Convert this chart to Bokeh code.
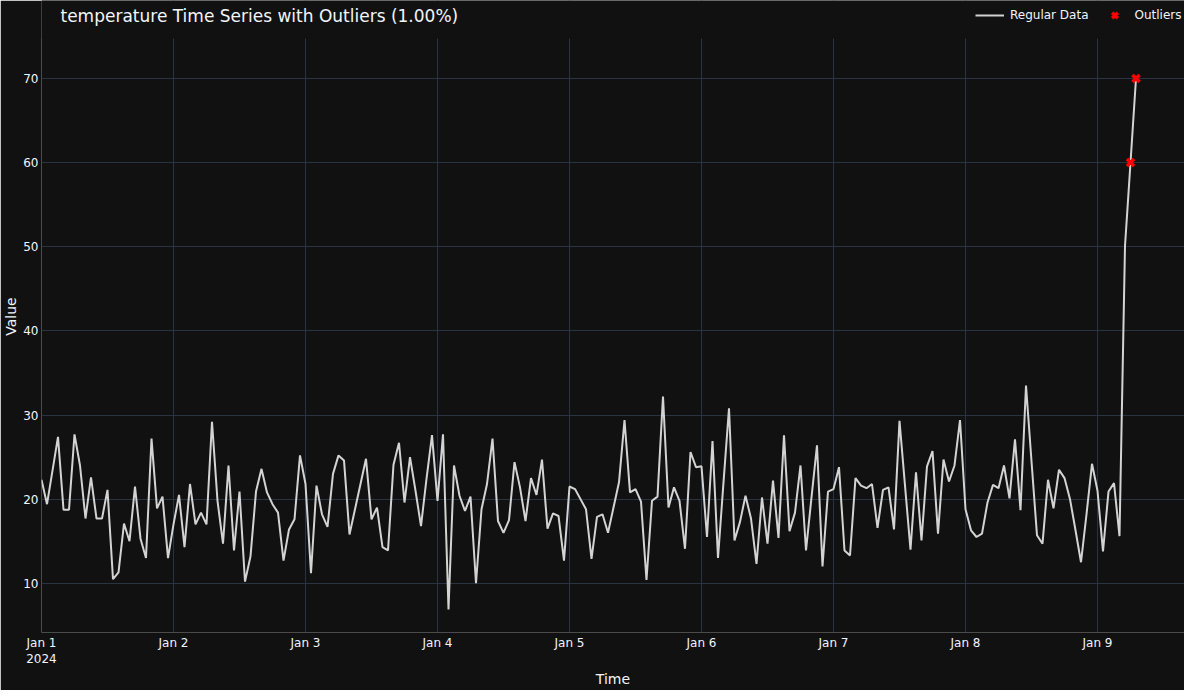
import pandas as pd
from bokeh.plotting import figure
from bokeh.models import (Range1d, FixedTicker, DatetimeTickFormatter, Legend,
                          LegendItem, ColumnDataSource, BoxAnnotation, Label)
from bokeh.embed import file_html
from bokeh.resources import INLINE

# ---------------- data ----------------
start_time = "2024-01-01 00:00"
values = [
    # Jan 1
    22.3, 19.4, 23.4, 27.4, 18.75, 18.75, 27.7, 24.0, 17.7, 22.6, 17.7, 17.7,
    21.1, 10.5, 11.3, 17.1, 15.0, 21.5, 15.3, 13.0, 27.2, 18.9, 20.3, 13.0,
    # Jan 2
    17.0, 20.5, 14.3, 21.8, 17.0, 18.4, 17.0, 29.2, 19.8, 14.7, 24.0, 13.9,
    20.9, 10.2, 13.2, 20.9, 23.6, 20.8, 19.4, 18.4, 12.7, 16.4, 17.6, 25.2,
    # Jan 3
    21.8, 11.2, 21.6, 18.2, 16.7, 23.0, 25.2, 24.6, 15.8, 18.8, 21.8, 24.8,
    17.6, 19.0, 14.3, 13.9, 24.1, 26.7, 19.6, 25.0, 21.0, 16.8, 22.4, 27.6,
    # Jan 4
    19.8, 27.7, 6.9, 24.0, 20.4, 18.6, 20.3, 10.0, 18.8, 21.8, 27.2, 17.4,
    16.0, 17.5, 24.4, 21.4, 17.4, 22.5, 20.5, 24.7, 16.5, 18.3, 18.0, 12.7,
    # Jan 5
    21.5, 21.2, 20.0, 18.8, 12.9, 17.9, 18.2, 16.0, 19.0, 22.0, 29.4, 20.8,
    21.2, 19.7, 10.4, 19.8, 20.3, 32.2, 19.0, 21.4, 19.8, 14.1, 25.6, 23.8,
    # Jan 6
    23.9, 15.5, 26.9, 13.0, 22.0, 30.8, 15.1, 17.3, 20.4, 17.7, 12.3, 20.2,
    14.7, 22.2, 15.4, 27.6, 16.2, 18.4, 24.0, 13.9, 20.2, 26.4, 12.0, 20.9,
    # Jan 7
    21.2, 23.8, 13.9, 13.3, 22.5, 21.6, 21.3, 21.8, 16.6, 21.1, 21.4, 16.4,
    29.3, 21.6, 14.0, 23.2, 15.1, 23.9, 25.7, 15.9, 24.7, 22.1, 24.0, 29.4,
    # Jan 8
    18.8, 16.3, 15.5, 15.9, 19.6, 21.7, 21.3, 24.0, 20.1, 27.1, 18.7, 33.5,
    24.5, 15.7, 14.7, 22.3, 18.9, 23.5, 22.5, 20.0, 16.3, 12.5, 18.2, 24.2,
    # Jan 9
    21.0, 13.8, 20.9, 21.9, 15.6, 50.1, 60.0, 70.0,
]
outlier_idx = [198, 199]
y_ticks = [10, 20, 30, 40, 50, 60, 70]
title_text = "temperature Time Series with Outliers (1.00%)"
legend_labels = ["Regular Data", "Outliers"]
x_label = "Time"
y_label = "Value"

times = pd.date_range(start_time, periods=len(values), freq="h")
day_ticks = pd.date_range(start_time, periods=9, freq="D")

src = ColumnDataSource(dict(t=times, v=values))
out_src = ColumnDataSource(dict(t=[times[i] for i in outlier_idx],
                                v=[values[i] for i in outlier_idx]))

# ---------------- style / geometry ----------------
BG = "#111111"
TXT = "#f2f5fa"
GRID = "#283442"
FONT = "DejaVu Sans"
LINE_COLOR = "#d3d3d3"
OUT_COLOR = "#ff0000"

W, H = 1184, 684
LEFT, BOTTOM = 41, 52
FRAME_W = W - LEFT
FRAME_H = H - BOTTOM          # frame runs to the canvas top
HEADER = 38                   # title/legend strip inside the frame top
PX_PER_HOUR = 5.5
Y_LO, Y_VIS_HI = 4.15, 74.75  # visible plotting area
px_per_unit = (FRAME_H - HEADER) / (Y_VIS_HI - Y_LO)
Y_HI = Y_LO + FRAME_H / px_per_unit

t0 = pd.Timestamp(start_time)
p = figure(
    x_axis_type="datetime",
    frame_width=FRAME_W, frame_height=FRAME_H,
    min_border_left=LEFT, min_border_right=0, min_border_top=0,
    min_border_bottom=BOTTOM,
    output_backend="svg", toolbar_location=None,
    background_fill_color=BG, border_fill_color=BG, outline_line_color=None,
    x_range=Range1d(t0, t0 + pd.Timedelta(hours=FRAME_W / PX_PER_HOUR)),
    y_range=Range1d(Y_LO, Y_HI),
)

p.xgrid.grid_line_color = GRID
p.ygrid.grid_line_color = GRID

line = p.line("t", "v", source=src, line_color=LINE_COLOR, line_width=2)
sc = p.scatter("t", "v", source=out_src, marker="x", size=10, line_width=3.5,
               color=OUT_COLOR)

# blank strip above the plotting area (holds title + legend)
p.add_layout(BoxAnnotation(bottom=Y_VIS_HI, fill_color=BG, fill_alpha=1.0,
                           line_color=None, level="annotation"))

for ax in (p.xaxis[0], p.yaxis[0]):
    ax.axis_line_color = None
    ax.major_tick_line_color = None
    ax.minor_tick_line_color = None
    ax.major_tick_out = 0
    ax.major_tick_in = 0
    ax.major_label_text_color = TXT
    ax.major_label_text_font = FONT
    ax.major_label_text_font_size = "12px"
    ax.axis_label_text_color = TXT
    ax.axis_label_text_font = FONT
    ax.axis_label_text_font_size = "14px"
    ax.axis_label_text_font_style = "normal"

p.xaxis.axis_label = x_label
p.yaxis.axis_label = y_label
p.yaxis.bounds = (Y_LO, Y_VIS_HI)
p.yaxis.ticker = FixedTicker(ticks=y_ticks)
p.yaxis.major_label_standoff = 3
p.yaxis.axis_label_standoff = 1
p.xaxis.ticker = FixedTicker(ticks=[d.value // 10**6 for d in day_ticks])
p.xaxis.formatter = DatetimeTickFormatter(days="%b %-d", context="%Y",
                                          context_which="start",
                                          context_location="below")
p.xaxis.major_label_standoff = 3
p.xaxis.axis_label_standoff = 2

# title
p.add_layout(Label(
    x=t0 + pd.Timedelta(hours=(60 - LEFT) / PX_PER_HOUR),
    y=Y_HI - 15 / px_per_unit,
    text=title_text, text_font=FONT, text_font_size="17px",
    text_color=TXT, text_baseline="middle", text_align="left",
))

legend = Legend(
    items=[LegendItem(label=legend_labels[0], renderers=[line]),
           LegendItem(label=legend_labels[1], renderers=[sc])],
    orientation="horizontal", location=(975 - LEFT, FRAME_H - 15 - 10),
    background_fill_alpha=0, border_line_color=None,
    label_text_color=TXT, label_text_font=FONT, label_text_font_size="12px",
    glyph_width=29, glyph_height=20, label_height=20, label_standoff=6,
    spacing=11, padding=0, margin=0,
)
p.add_layout(legend)

open("out.html", "w").write(file_html(p, INLINE))
